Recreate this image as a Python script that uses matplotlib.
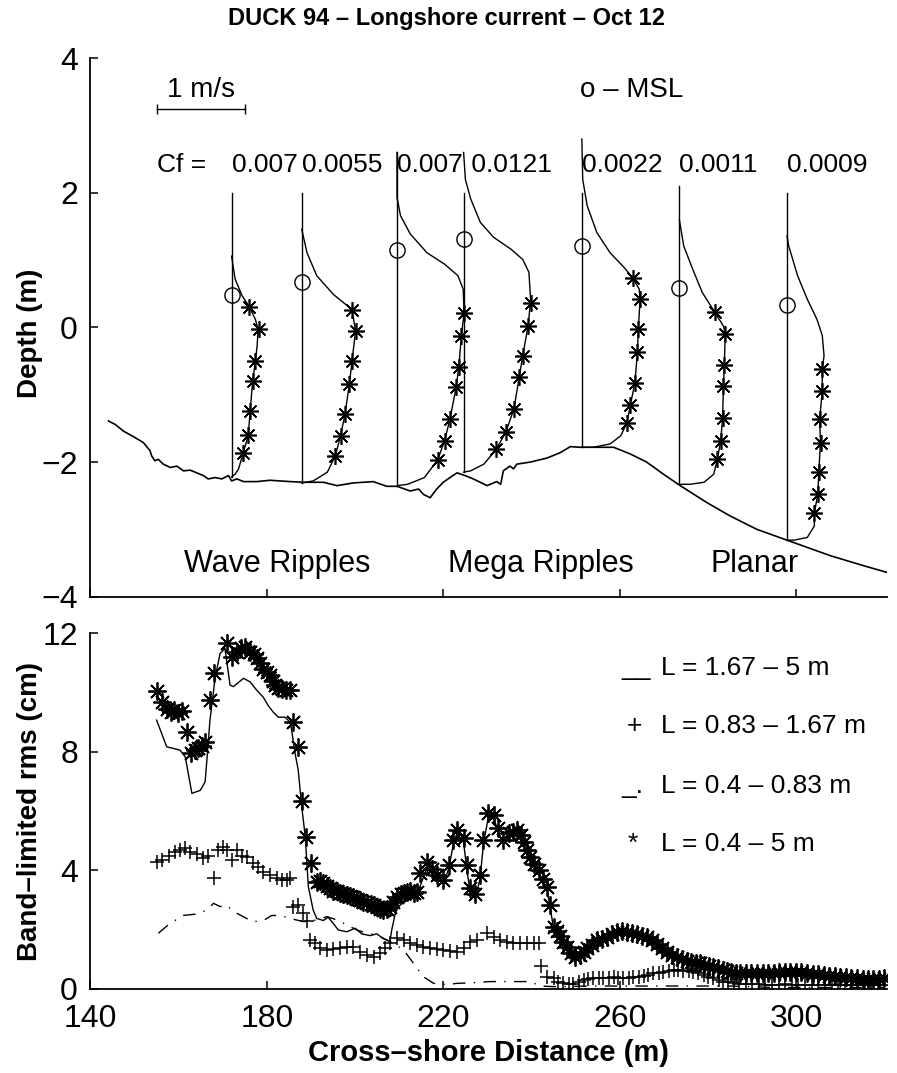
#! /usr/bin/env python3

import matplotlib
matplotlib.use("Agg")
import matplotlib.pyplot as plt

plt.rcParams["font.family"] = ["Liberation Sans", "DejaVu Sans"]

# --- top panel: bed profile (cross-shore distance, depth) ---
bed_x = [144.1, 145.6, 147.5, 149.7, 152.0, 153.5, 153.9, 154.6, 155.4, 156.5, 158.1, 159.6,
         161.1, 162.6, 164.1, 165.6, 166.7, 168.3, 169.8, 171.3, 172.0, 173.2, 174.7, 177.7,
         180.7, 185.3, 188.3, 192.8, 195.9, 199.6, 204.1, 207.2, 209.5, 212.5, 214.4, 215.5,
         217.0, 218.5, 220.0, 221.5, 223.1, 224.9, 226.8, 229.9, 232.1, 233.0, 233.6, 235.1,
         235.9, 236.7, 239.7, 243.5, 246.5, 248.8, 251.0, 258.6, 262.4, 266.1, 269.9, 273.7,
         279.7, 285.0, 291.1, 297.9, 307.7, 315.3, 320.6]
bed_z = [-1.39, -1.44, -1.54, -1.62, -1.71, -1.83, -1.91, -1.98, -1.96, -2.03, -2.08, -2.06,
         -2.13, -2.12, -2.16, -2.20, -2.25, -2.23, -2.25, -2.20, -2.28, -2.25, -2.29, -2.29,
         -2.27, -2.29, -2.30, -2.30, -2.35, -2.31, -2.29, -2.36, -2.36, -2.43, -2.40, -2.48,
         -2.53, -2.40, -2.30, -2.23, -2.16, -2.20, -2.25, -2.35, -2.29, -2.33, -2.13, -2.06,
         -2.10, -2.03, -2.00, -1.94, -1.86, -1.77, -1.78, -1.78, -1.88, -2.00, -2.18, -2.35,
         -2.60, -2.80, -3.00, -3.16, -3.39, -3.54, -3.64]

# current meter stations
station_x = [172.0, 187.9, 209.5, 224.6, 251.4, 273.5, 297.9]
station_bed = [-2.22, -2.31, -2.35, -2.15, -1.78, -2.33, -3.16]
station_top = [2.0, 2.0, 2.6, 2.0, 2.0, 2.1, 2.0]
station_msl = [0.48, 0.68, 1.15, 1.32, 1.21, 0.58, 0.33]
cf_labels = ["0.007", "0.0055", "0.007", " 0.0121", "0.0022", "0.0011", "0.0009"]

# model velocity profiles (elevation m, speed m/s)
model_z = [
    [1.06, 0.72, 0.47, 0.31, 0.12, -0.03, -0.27, -0.50, -0.79, -1.24, -1.60, -1.87, -2.10, -2.18, -2.22],
    [1.46, 1.11, 0.77, 0.49, 0.32, 0.26, -0.05, -0.50, -0.84, -1.29, -1.61, -1.91, -2.15, -2.28, -2.31],
    [2.60, 1.93, 1.66, 1.39, 1.11, 0.94, 0.77, 0.57, 0.22, -0.12, -0.59, -0.89, -1.36, -1.68, -1.97,
     -2.23, -2.33, -2.35],
    [2.60, 2.20, 1.91, 1.56, 1.34, 1.16, 1.01, 0.82, 0.40, 0.02, -0.42, -0.74, -1.21, -1.55, -1.81,
     -2.03, -2.13, -2.15],
    [2.80, 2.20, 1.81, 1.41, 1.11, 0.89, 0.73, 0.57, 0.42, -0.03, -0.37, -0.83, -1.15, -1.42, -1.61,
     -1.73, -1.78, -1.78],
    [1.60, 1.21, 0.87, 0.52, 0.23, 0.02, -0.10, -0.56, -0.87, -1.34, -1.68, -1.96, -2.18, -2.30, -2.33,
     -2.33],
    [1.36, 1.21, 0.77, 0.42, 0.12, -0.12, -0.42, -0.62, -0.94, -1.36, -1.71, -2.15, -2.48, -2.75, -2.95,
     -3.12, -3.16, -3.16],
]
model_u = [
    [0.0, 0.04, 0.12, 0.20, 0.27, 0.30, 0.29, 0.27, 0.24, 0.21, 0.19, 0.13, 0.08, 0.04, 0.0],
    [0.0, 0.06, 0.17, 0.36, 0.52, 0.57, 0.61, 0.57, 0.54, 0.49, 0.44, 0.38, 0.29, 0.13, 0.0],
    [0.0, 0.0, 0.04, 0.15, 0.34, 0.54, 0.69, 0.75, 0.76, 0.73, 0.70, 0.67, 0.60, 0.54, 0.46,
     0.31, 0.12, 0.0],
    [0.0, 0.02, 0.08, 0.19, 0.34, 0.54, 0.67, 0.74, 0.76, 0.73, 0.67, 0.63, 0.57, 0.48, 0.37,
     0.23, 0.08, 0.0],
    [0.0, 0.01, 0.06, 0.17, 0.32, 0.48, 0.58, 0.65, 0.66, 0.64, 0.63, 0.60, 0.55, 0.51, 0.44,
     0.32, 0.13, 0.0],
    [0.0, 0.05, 0.15, 0.26, 0.40, 0.50, 0.52, 0.51, 0.50, 0.49, 0.47, 0.43, 0.39, 0.28, 0.12, 0.0],
    [0.0, 0.02, 0.12, 0.23, 0.34, 0.40, 0.42, 0.40, 0.40, 0.37, 0.38, 0.36, 0.35, 0.31, 0.31,
     0.23, 0.08, 0.0],
]

# measured velocities (stars)
obs_z = [
    [0.31, -0.03, -0.50, -0.79, -1.24, -1.60, -1.87],
    [0.26, -0.05, -0.50, -0.84, -1.29, -1.61, -1.91],
    [0.22, -0.12, -0.59, -0.89, -1.36, -1.68, -1.97],
    [0.37, 0.02, -0.42, -0.74, -1.21, -1.55, -1.81],
    [0.73, 0.42, -0.03, -0.37, -0.83, -1.15, -1.42],
    [0.23, -0.10, -0.56, -0.87, -1.34, -1.68, -1.96],
    [-0.62, -0.94, -1.36, -1.71, -2.15, -2.48, -2.75],
]
obs_u = [
    [0.20, 0.31, 0.27, 0.24, 0.21, 0.19, 0.13],
    [0.57, 0.61, 0.57, 0.54, 0.49, 0.44, 0.38],
    [0.76, 0.73, 0.70, 0.67, 0.60, 0.54, 0.46],
    [0.76, 0.73, 0.67, 0.63, 0.57, 0.48, 0.37],
    [0.58, 0.66, 0.64, 0.63, 0.60, 0.55, 0.51],
    [0.40, 0.52, 0.51, 0.50, 0.49, 0.47, 0.43],
    [0.40, 0.40, 0.37, 0.38, 0.36, 0.35, 0.31],
]

scale_speed = 1.0  # m/s shown by the scale bar
region_names = ["Wave Ripples", "Mega Ripples", "Planar"]

# --- bottom panel: band-limited rms (cm) ---
rms_total_x = [155.0, 156.2, 157.3, 158.2, 159.0, 159.9, 160.8, 161.8, 162.8, 163.6, 164.5, 165.3,
               166.0, 167.1, 168.0, 170.9, 172.0, 173.2, 174.1, 175.1, 176.2, 177.0, 177.7, 178.5,
               179.2, 180.0, 180.7, 181.3, 181.9, 182.6, 183.4, 184.3, 185.3, 186.0, 187.1, 187.9,
               188.9, 190.0, 191.3, 192.0, 192.8, 193.6, 194.3, 195.1, 195.9, 196.6, 197.3, 198.1,
               198.8, 199.6, 200.4, 201.2, 201.9, 202.7, 203.5, 204.2, 205.0, 205.7, 206.4, 207.2,
               207.9, 208.7, 209.5, 210.3, 211.0, 211.7, 212.5, 213.3, 214.0, 214.8, 216.3, 217.4,
               218.5, 220.0, 221.2, 222.3, 223.1, 224.6, 225.3, 226.1, 227.2, 228.3, 229.1, 230.2,
               231.4, 232.5, 233.6, 234.8, 235.8, 236.7, 237.5, 238.2, 239.0, 239.7, 240.6, 241.6,
               242.5, 243.5, 244.2, 245.0, 245.7, 246.5, 247.2, 248.0, 249.0, 249.9, 251.0, 251.8,
               252.5, 253.6, 254.8, 256.0, 257.1, 258.2, 259.3, 260.4, 261.6, 262.8, 263.9, 265.0,
               266.1, 267.2, 268.4, 269.5, 270.7, 271.8, 272.9, 274.0, 275.2, 276.2, 277.2, 278.2,
               279.2, 280.2, 281.2, 282.2, 283.3, 284.3, 285.3, 286.3, 287.3, 288.6, 289.8, 291.1,
               292.4, 293.6, 294.9, 296.2, 297.4, 298.6, 299.9, 301.1, 302.4, 303.7, 304.9, 306.2,
               307.5, 308.7, 310.0, 311.3, 312.5, 313.8, 315.1, 316.3, 317.5, 318.8, 320.0]
rms_total = [10.05, 9.68, 9.45, 9.35, 9.40, 9.30, 9.38, 8.66, 7.95, 8.05, 8.13, 8.20,
             8.34, 9.75, 10.65, 11.66, 11.21, 11.38, 11.50, 11.55, 11.38, 11.30, 11.15, 11.00,
             10.81, 10.70, 10.58, 10.40, 10.24, 10.15, 10.12, 10.10, 10.07, 9.00, 8.15, 6.35,
             5.14, 4.24, 3.60, 3.65, 3.56, 3.48, 3.40, 3.32, 3.30, 3.25, 3.21, 3.18,
             3.15, 3.10, 3.05, 3.00, 2.94, 2.90, 2.86, 2.83, 2.78, 2.70, 2.66, 2.70,
             2.76, 2.95, 3.10, 3.20, 3.25, 3.26, 3.30, 3.25, 3.26, 3.90, 4.29, 4.05,
             3.84, 3.68, 4.18, 5.03, 5.36, 5.08, 4.18, 3.39, 3.21, 3.84, 5.03, 5.93,
             5.87, 5.42, 5.03, 5.25, 5.30, 5.36, 5.20, 4.97, 4.70, 4.44, 4.20, 4.00,
             3.70, 3.43, 2.85, 2.10, 1.95, 1.80, 1.60, 1.41, 1.20, 1.07, 1.13, 1.25,
             1.37, 1.50, 1.65, 1.70, 1.76, 1.85, 1.93, 1.95, 1.93, 1.90, 1.86, 1.80,
             1.76, 1.65, 1.52, 1.38, 1.24, 1.15, 1.07, 1.00, 0.96, 0.92, 0.88, 0.86,
             0.82, 0.78, 0.75, 0.70, 0.65, 0.62, 0.58, 0.55, 0.53, 0.53, 0.53, 0.53,
             0.54, 0.55, 0.55, 0.56, 0.57, 0.58, 0.57, 0.56, 0.55, 0.52, 0.50, 0.47,
             0.45, 0.43, 0.41, 0.39, 0.37, 0.36, 0.35, 0.34, 0.33, 0.34, 0.36]

rms_long_x = [155.0, 157.3, 160.3, 161.5, 163.0, 164.9, 166.0, 166.4, 167.1, 168.3, 169.4, 170.5,
              171.65, 172.4, 174.7, 176.2, 177.7, 179.2, 180.3, 181.5, 182.6, 184.1, 185.3, 185.6,
              186.4, 187.1, 187.9, 188.7, 189.4, 190.5, 191.3, 192.8, 193.9, 195.1, 196.2, 198.1,
              200.0, 201.5, 203.4, 204.9, 206.4, 207.9, 208.3, 209.1, 209.8, 211.7, 213.6, 214.7,
              216.3, 218.5, 220.0, 221.2, 222.3, 223.1, 224.6, 225.3, 226.1, 227.2, 228.3, 229.1,
              230.2, 231.4, 232.5, 233.6, 234.8, 236.7, 238.2, 239.7, 241.6, 243.5, 244.2, 245.0,
              246.5, 248.0, 249.9, 251.0, 252.5, 254.8, 257.1, 259.3, 261.6, 263.9, 266.1, 268.4,
              270.7, 272.9, 275.2, 278.2, 281.2, 284.3, 287.3, 291.1, 294.9, 298.6, 302.4, 306.2,
              310.0, 313.8, 317.5, 320.3]
rms_long = [9.07, 8.17, 8.06, 7.83, 6.60, 6.70, 6.99, 7.72, 9.07, 10.53, 11.32, 11.49,
            10.25, 10.20, 10.48, 10.36, 10.08, 9.84, 9.56, 9.33, 9.17, 9.17, 9.00, 8.74,
            7.95, 7.39, 6.15, 5.14, 3.45, 2.66, 2.38, 2.31, 2.42, 2.20, 1.99, 1.93,
            2.05, 1.86, 1.80, 1.86, 1.70, 1.60, 1.99, 2.55, 2.78, 3.00, 3.22, 3.45,
            4.10, 3.70, 3.55, 4.05, 4.90, 5.25, 4.95, 4.05, 3.25, 3.05, 3.70, 4.90,
            5.80, 5.75, 5.30, 4.90, 5.10, 5.25, 4.85, 4.35, 3.90, 3.35, 2.75, 2.05,
            1.75, 1.38, 1.05, 1.10, 1.33, 1.62, 1.73, 1.90, 1.90, 1.83, 1.73, 1.49,
            1.20, 1.03, 0.90, 0.80, 0.68, 0.55, 0.45, 0.42, 0.45, 0.47, 0.45, 0.38,
            0.33, 0.28, 0.27, 0.30]

rms_mid_x = [155.0, 156.2, 157.7, 159.2, 160.3, 161.5, 162.6, 164.1, 165.6, 166.7, 168.0, 169.0,
             170.1, 170.9, 172.0, 173.2, 174.3, 175.4, 176.9, 178.1, 179.2, 180.7, 182.2, 183.4,
             184.5, 185.3, 186.0, 187.1, 188.3, 189.0, 189.8, 190.9, 192.1, 193.6, 195.1, 196.6,
             198.1, 199.6, 201.1, 202.7, 204.2, 205.7, 206.8, 207.9, 209.5, 211.0, 212.5, 214.0,
             215.5, 217.0, 218.5, 220.0, 221.5, 223.1, 224.6, 226.1, 227.6, 229.9, 231.4, 232.9,
             234.4, 235.9, 237.4, 239.0, 240.5, 241.6, 242.1, 243.5, 245.0, 246.1, 247.2, 248.4,
             249.5, 250.7, 251.8, 252.9, 254.0, 255.2, 256.3, 257.5, 258.6, 259.7, 260.8, 262.0,
             263.1, 264.3, 265.4, 266.5, 267.6, 268.8, 269.9, 271.1, 272.2, 273.3, 274.4, 275.6,
             276.7, 277.8, 279.0, 280.1, 281.2, 282.4, 283.5, 284.6, 285.8, 287.0, 288.5, 290.0,
             291.5, 293.0, 294.5, 296.0, 297.5, 299.0, 300.5, 302.0, 303.5, 305.0, 306.5, 308.0,
             309.5, 311.0, 312.5, 314.0, 315.5, 317.0, 318.5, 320.0]
rms_mid = [4.29, 4.35, 4.50, 4.63, 4.69, 4.74, 4.63, 4.57, 4.41, 4.50, 3.73, 4.69,
           4.80, 4.69, 4.35, 4.69, 4.50, 4.46, 4.24, 4.12, 3.96, 3.84, 3.73, 3.67,
           3.67, 3.73, 2.78, 2.83, 2.55, 2.31, 1.65, 1.54, 1.37, 1.32, 1.34, 1.37,
           1.43, 1.41, 1.26, 1.13, 1.07, 1.20, 1.37, 1.54, 1.71, 1.65, 1.54, 1.48,
           1.41, 1.37, 1.34, 1.32, 1.29, 1.26, 1.37, 1.60, 1.65, 1.88, 1.76, 1.65,
           1.60, 1.54, 1.54, 1.54, 1.54, 1.54, 0.78, 0.41, 0.36, 0.25, 0.19, 0.17,
           0.17, 0.22, 0.30, 0.33, 0.36, 0.36, 0.36, 0.37, 0.39, 0.37, 0.36, 0.37,
           0.39, 0.41, 0.44, 0.48, 0.53, 0.55, 0.58, 0.61, 0.64, 0.63, 0.62, 0.60,
           0.58, 0.53, 0.47, 0.41, 0.36, 0.30, 0.25, 0.22, 0.19, 0.18, 0.17, 0.16,
           0.16, 0.15, 0.15, 0.15, 0.16, 0.15, 0.15, 0.15, 0.14, 0.15, 0.15, 0.15,
           0.14, 0.15, 0.15, 0.15, 0.14, 0.15, 0.15, 0.15]

rms_short_x = [155.4, 158.0, 161.1, 164.1, 166.4, 167.9, 169.4, 170.9, 172.4, 173.9, 175.4, 176.9,
               179.2, 181.1, 183.0, 185.3, 188.3, 191.3, 193.6, 195.9, 198.1, 200.4, 202.7, 204.9,
               207.9, 211.0, 213.2, 215.5, 217.8, 220.8, 223.1, 226.8, 230.6, 235.1, 239.7, 242.0,
               245.0, 255.0, 265.0, 275.0, 285.0, 295.0, 305.0, 320.0]
rms_short = [1.88, 2.21, 2.48, 2.53, 2.66, 2.89, 2.78, 2.83, 2.61, 2.50, 2.38, 2.27,
             2.31, 2.48, 2.48, 2.38, 2.27, 2.33, 2.44, 2.33, 2.16, 1.99, 1.88, 1.82,
             1.60, 1.32, 0.87, 0.41, 0.19, 0.15, 0.19, 0.21, 0.25, 0.25, 0.25, 0.10,
             0.08, 0.10, 0.10, 0.10, 0.10, 0.05, 0.05, 0.05]

legend_symbols = ["__", "+", "_.", "*"]
legend_labels = ["L = 1.67 \u2013 5 m", "L = 0.83 \u2013 1.67 m", "L = 0.4 \u2013 0.83 m", "L = 0.4 \u2013 5 m"]


def style_axes(ax):
    # only left and bottom frame, ticks pointing inward (old MATLAB look)
    for side in ["top", "right"]:
        ax.spines[side].set_visible(False)
    for side in ["left", "bottom"]:
        ax.spines[side].set_linewidth(1.3)
    ax.tick_params(direction="in", length=6, width=1.1, labelsize=23)
    ax.tick_params(axis="x", pad=11)
    ax.tick_params(axis="y", pad=9)


def main():
    fig = plt.figure(figsize=(8.97, 10.73), dpi=100)
    ax1 = fig.add_axes([0.1008, 0.4439, 0.8877, 0.5018])
    ax2 = fig.add_axes([0.1008, 0.0783, 0.8877, 0.3315])

    vel_scale = 20.0  # metres of cross-shore distance per 1 m/s
    star = (8, 2, 0)

    # --- top panel ---
    ax1.plot(bed_x, bed_z, color="black", lw=1.2)
    for i, xs in enumerate(station_x):
        ax1.plot([xs, xs], [station_bed[i], station_top[i]], color="black", lw=1.0)
        ax1.plot([xs + u * vel_scale for u in model_u[i]], model_z[i], color="black", lw=1.0)
        ax1.plot([xs + u * vel_scale for u in obs_u[i]], obs_z[i], ls="none", marker=star,
                 ms=12, mew=1.2, color="black")
        ax1.plot([xs], [station_msl[i]], ls="none", marker="o", ms=11, mfc="none",
                 mec="black", mew=1.0)
        ax1.text(xs, 2.42, cf_labels[i], fontsize=19, ha="left", va="center")

    ax1.text(155.0, 2.42, "Cf =", fontsize=19, ha="left", va="center")

    # velocity scale bar
    bar_x = [155.0, 155.0 + scale_speed * vel_scale]
    ax1.plot(bar_x, [3.25, 3.25], color="black", lw=1.0, marker="|", ms=7, mew=1.0)
    ax1.text(sum(bar_x) / 2, 3.53, "1 m/s", fontsize=20, ha="center", va="center")
    ax1.text(262.6, 3.53, "o \u2013 MSL", fontsize=20, ha="center", va="center")

    for name, xr in zip(region_names, [182.4, 242.0, 290.5]):
        ax1.text(xr, -3.52, name, fontsize=22, ha="center", va="center")

    ax1.set_xlim(140, 320.5)
    ax1.set_ylim(-4, 4)
    ax1.set_xticks([140, 180, 220, 260, 300])
    ax1.set_xticklabels([])
    ax1.set_yticks([-4, -2, 0, 2, 4])
    ax1.set_ylabel("Depth (m)", fontsize=20, fontweight="bold")
    ax1.yaxis.set_label_coords(-0.06, 0.49)
    style_axes(ax1)

    # --- bottom panel ---
    ax2.plot(rms_short_x, rms_short, color="black", lw=1.0, ls=(0, (9, 6, 1, 6)))
    ax2.plot(rms_long_x, rms_long, color="black", lw=1.0)
    ax2.plot(rms_mid_x, rms_mid, ls="none", marker="+", ms=10, mew=1.1, color="black")
    ax2.plot(rms_total_x, rms_total, ls="none", marker=star, ms=13, mew=1.3, color="black")

    ys = [0.884, 0.719, 0.551, 0.387]
    xs_sym = [0.667, 0.674, 0.667, 0.675]
    for sym, lab, y, xsym in zip(legend_symbols, legend_labels, ys, xs_sym):
        ax2.text(xsym, y, sym, transform=ax2.transAxes, fontsize=19, ha="left", va="baseline")
        ax2.text(0.716, y, lab, transform=ax2.transAxes, fontsize=19, ha="left", va="baseline")

    ax2.set_xlim(140, 320.5)
    ax2.set_ylim(0, 12)
    ax2.set_xticks([140, 180, 220, 260, 300])
    ax2.set_yticks([0, 4, 8, 12])
    ax2.set_xlabel("Cross\u2013shore Distance (m)", fontsize=21, fontweight="bold")
    ax2.xaxis.set_label_coords(0.5, -0.14)
    ax2.set_ylabel("Band\u2013limited rms (cm)", fontsize=20, fontweight="bold")
    ax2.yaxis.set_label_coords(-0.06, 0.5)
    style_axes(ax2)

    fig.text(0.498, 0.983, "DUCK 94 \u2013 Longshore current \u2013 Oct 12", fontsize=17,
             fontweight="bold", ha="center", va="center")

    fig.savefig("out.png", dpi=100)
    plt.close(fig)


if __name__ == "__main__":
    main()
